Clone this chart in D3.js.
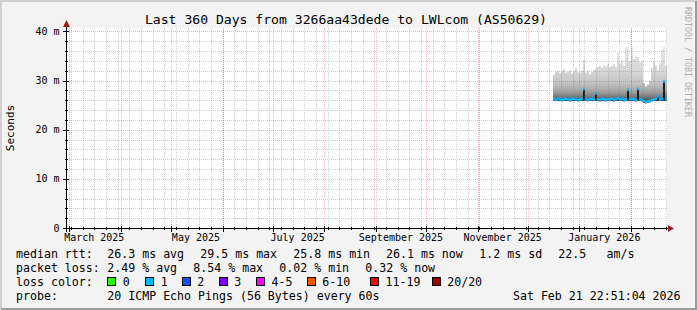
<!DOCTYPE html>
<html>
<head>
<meta charset="utf-8">
<script src="https://cdn.jsdelivr.net/npm/d3@7"></script>
<style>
  body { margin: 0; background: #f3f3f3; }
  text { font-family: "DejaVu Sans Mono", monospace; fill: #000; }
</style>
</head>
<body>
<svg id="chart" width="697" height="310"></svg>
<script>
// time window of the graph (360 days) and first column with data
const rangeStart = new Date(Date.UTC(2025, 1, 27, 15));
const rangeEnd = new Date(Date.UTC(2026, 1, 22, 15));
const dataStart = new Date(Date.UTC(2025, 11, 16, 5));
const stepHours = 28.8;

// per column values in ms
const medianRtt = [26.2, 26.1, 26.3, 26.2, 26.1, 26.2, 26.3, 26.2, 26.1, 26.2, 26.3, 26.2, 26.1, 26.2, 26.3,
    28.3,
    26.2, 26.1, 26.2, 26.3, 26.2,
    27.4,
    26.2, 26.1, 26.3, 26.2, 26.1, 26.2, 26.2, 26.3, 26.1, 26.2,
    26.4,
    26.2, 26.3, 26.1, 26.2,
    28.1,
    26.2, 26.3, 26.2, 26.1,
    28.3,
    26.2, 26.1,
    25.8, 25.7, 25.8, 25.9,
    26.1, 26.2, 26.3,
    26.8,
    26.2, 26.3,
    29.8,
    26.3];
const minRtt = [25.9, 25.9, 25.9, 25.9, 25.8, 25.9, 25.9, 25.9, 25.8, 25.9, 25.9, 25.9, 25.8, 25.9, 25.9,
    25.9,
    25.9, 25.8, 25.9, 25.9, 25.9,
    25.9,
    25.9, 25.8, 25.9, 25.9, 25.8, 25.9, 25.9, 25.9, 25.8, 25.9,
    25.9,
    25.9, 25.9, 25.8, 25.9,
    25.9,
    25.9, 25.9, 25.9, 25.8,
    25.9,
    25.9, 25.8,
    25.5, 25.4, 25.5, 25.6,
    25.8, 25.9, 25.9,
    25.9,
    25.9, 25.9,
    25.9,
    25.9];
const maxRtt = [31.2, 31.8, 32.0, 31.5, 31.9, 32.3, 31.6, 31.8, 32.1, 31.4, 31.9, 32.4, 31.7, 31.5, 32.0,
    34.2,
    31.6, 32.0, 31.3, 31.8, 32.2,
    32.5,
    32.8, 33.0, 32.6, 33.2, 32.9, 33.5, 32.7, 33.0, 33.4, 32.8,
    35.6,
    33.5, 34.2, 33.0, 36.8,
    36.9,
    34.0, 36.9, 34.4, 34.9,
    34.8,
    33.7, 34.0,
    29.5, 28.8, 29.2, 30.0,
    32.5, 33.8, 33.2,
    32.0,
    33.5, 36.4,
    36.9,
    33.0];
const lossCount = [1, 1, 1, 1, 1, 1, 1, 1, 1, 1, 1, 1, 1, 1, 1,
    1,
    1, 1, 1, 1, 1,
    1,
    1, 1, 1, 1, 1, 1, 1, 1, 1, 1,
    1,
    1, 1, 1, 1,
    1,
    1, 1, 1, 1,
    1,
    1, 1,
    1, 1, 1, 1,
    1, 1, 1,
    1,
    1, 1,
    1,
    1];

const yTickValues = [0, 10, 20, 30, 40];
const yTickLabels = ["0", "10 m", "20 m", "30 m", "40 m"];
const monthLabels = ["March 2025", "May 2025", "July 2025", "September 2025", "November 2025", "January 2026"];

const lossBuckets = ["0", "1", "2", "3", "4-5", "6-10", "11-19", "20/20"];
const lossColors = ["#26ff00", "#00b8ff", "#0059ff", "#7e00ff", "#ff00ff", "#ff5500", "#ff0000", "#a10000"];

const rttLegend = [["26.3 ms avg", 107.3], ["29.5 ms max", 200.3], ["25.8 ms min", 293.3],
    ["26.1 ms now", 386], ["1.2 ms sd", 479.3], ["22.5", 558.3], ["am/s", 606.5]];
const lossLegend = [["2.49 % avg", 107.3], ["8.54 % max", 193.3], ["0.02 % min", 279.3], ["0.32 % now", 365.3]];
const swatchX = [107.3, 145.3, 181.7, 218.7, 256, 306.7, 370, 431.7];

const W = 697, H = 310;
const plot = { left: 67, right: 667, top: 28, bottom: 228 };

const svg = d3.select("#chart");

const x = d3.scaleUtc().domain([rangeStart, rangeEnd]).range([plot.left, plot.right]);
const y = d3.scaleLinear().domain([0, 40.7]).range([plot.bottom, plot.top]);

function lossColor(n) {
    if (n <= 3) return lossColors[n];
    if (n <= 5) return lossColors[4];
    if (n <= 10) return lossColors[5];
    if (n <= 19) return lossColors[6];
    return lossColors[7];
}

// canvas and frame
svg.append("rect").attr("width", W).attr("height", H).attr("fill", "#f3f3f3");
svg.append("path").attr("d", `M1,${H} V1 H${W}`).attr("stroke", "#d0d0d0").attr("stroke-width", 2).attr("fill", "none");
svg.append("path").attr("d", `M1,${H - 1} H${W - 1} V1`).attr("stroke", "#9c9c9c").attr("stroke-width", 2).attr("fill", "none");

svg.append("rect")
    .attr("x", plot.left).attr("y", plot.top)
    .attr("width", plot.right - plot.left).attr("height", plot.bottom - plot.top)
    .attr("fill", "#fff");

// smoke gradient, dark near the median and fading upward
const grad = svg.append("defs").append("linearGradient")
    .attr("id", "smoke")
    .attr("gradientUnits", "userSpaceOnUse")
    .attr("x1", 0).attr("x2", 0)
    .attr("y1", y(26)).attr("y2", y(37));
[[0, "#4a4a4a"], [0.07, "#7a7a7a"], [0.18, "#a8a8a8"], [0.34, "#c6c6c6"], [0.55, "#d6d6d6"], [1, "#e8e8e8"]]
    .forEach(s => grad.append("stop").attr("offset", s[0]).attr("stop-color", s[1]));

const cols = medianRtt.map((m, i) => ({
    t0: new Date(+dataStart + i * stepHours * 3600e3),
    t1: new Date(+dataStart + (i + 1) * stepHours * 3600e3),
    median: m,
    min: minRtt[i],
    max: maxRtt[i],
    loss: lossCount[i]
}));

const data = svg.append("g");

data.selectAll(".smoke")
    .data(cols)
    .enter()
    .append("rect")
    .attr("class", "smoke")
    .attr("x", d => x(d.t0))
    .attr("width", d => x(d.t1) - x(d.t0))
    .attr("y", d => y(d.max))
    .attr("height", d => y(d.min) - y(d.max))
    .attr("fill", "url(#smoke)");

data.selectAll(".dark")
    .data(cols)
    .enter()
    .append("rect")
    .attr("class", "dark")
    .attr("x", d => x(d.t0))
    .attr("width", d => x(d.t1) - x(d.t0))
    .attr("y", d => y(d.median))
    .attr("height", d => y(d.min) - y(d.median))
    .attr("fill", "#1c1c1c");

data.selectAll(".median")
    .data(cols)
    .enter()
    .append("rect")
    .attr("class", "median")
    .attr("x", d => x(d.t0))
    .attr("width", d => x(d.t1) - x(d.t0))
    .attr("y", d => y(d.median) - 1.3)
    .attr("height", 2.6)
    .attr("fill", d => lossColor(d.loss));

// grid on top of the data, like rrdtool
const grid = svg.append("g").attr("fill", "none").attr("shape-rendering", "crispEdges");
const minorStroke = "rgba(130,130,130,0.38)";
const majorStroke = "rgba(235,60,60,0.38)";

grid.selectAll(".yminor")
    .data(d3.range(0, 41, 2).filter(v => v % 10 != 0))
    .enter().append("line")
    .attr("x1", plot.left).attr("x2", plot.right)
    .attr("y1", d => Math.round(y(d)) + 0.5).attr("y2", d => Math.round(y(d)) + 0.5)
    .attr("stroke", minorStroke).attr("stroke-dasharray", "1,1");

grid.selectAll(".xminor")
    .data(d3.utcSunday.range(rangeStart, rangeEnd))
    .enter().append("line")
    .attr("x1", d => Math.round(x(d)) + 0.5).attr("x2", d => Math.round(x(d)) + 0.5)
    .attr("y1", plot.top).attr("y2", plot.bottom)
    .attr("stroke", minorStroke).attr("stroke-dasharray", "1,1");

grid.selectAll(".ymajor")
    .data(yTickValues.slice(1))
    .enter().append("line")
    .attr("x1", plot.left).attr("x2", plot.right)
    .attr("y1", d => Math.round(y(d)) + 0.5).attr("y2", d => Math.round(y(d)) + 0.5)
    .attr("stroke", majorStroke).attr("stroke-dasharray", "1,1");

const months = d3.utcMonth.range(rangeStart, rangeEnd);
grid.selectAll(".xmajor")
    .data(months)
    .enter().append("line")
    .attr("x1", d => Math.round(x(d)) + 0.5).attr("x2", d => Math.round(x(d)) + 0.5)
    .attr("y1", plot.top).attr("y2", plot.bottom)
    .attr("stroke", majorStroke).attr("stroke-dasharray", "1,1");

// axes
const axes = svg.append("g").attr("shape-rendering", "crispEdges").attr("stroke", "#000");
axes.append("line").attr("x1", plot.left - 4).attr("x2", plot.right + 2)
    .attr("y1", plot.bottom + 0.5).attr("y2", plot.bottom + 0.5);
axes.append("line").attr("x1", plot.left - 0.5).attr("x2", plot.left - 0.5)
    .attr("y1", plot.bottom + 4).attr("y2", plot.top - 2);

axes.selectAll(".ytick")
    .data(yTickValues)
    .enter().append("line")
    .attr("x1", plot.left - 4).attr("x2", plot.left + 2)
    .attr("y1", d => Math.round(y(d)) + 0.5).attr("y2", d => Math.round(y(d)) + 0.5);
axes.selectAll(".ytickminor")
    .data(d3.range(0, 41, 2))
    .enter().append("line")
    .attr("x1", plot.left - 2).attr("x2", plot.left + 1)
    .attr("y1", d => Math.round(y(d)) + 0.5).attr("y2", d => Math.round(y(d)) + 0.5);
axes.selectAll(".xtick")
    .data(months)
    .enter().append("line")
    .attr("x1", d => Math.round(x(d)) + 0.5).attr("x2", d => Math.round(x(d)) + 0.5)
    .attr("y1", plot.bottom - 2).attr("y2", plot.bottom + 4);
axes.selectAll(".xtickminor")
    .data(d3.utcSunday.range(rangeStart, rangeEnd))
    .enter().append("line")
    .attr("x1", d => Math.round(x(d)) + 0.5).attr("x2", d => Math.round(x(d)) + 0.5)
    .attr("y1", plot.bottom - 1).attr("y2", plot.bottom + 2);

// arrow heads
svg.append("path")
    .attr("d", `M${plot.right + 1},${plot.bottom - 3} L${plot.right + 7},${plot.bottom + 0.5} L${plot.right + 1},${plot.bottom + 4} Z`)
    .attr("fill", "#9b1c1c");
svg.append("path")
    .attr("d", `M${plot.left - 4},${plot.top - 1} L${plot.left - 0.5},${plot.top - 8} L${plot.left + 3},${plot.top - 1} Z`)
    .attr("fill", "#9b1c1c");

// axis labels
svg.selectAll(".ylabel")
    .data(yTickValues)
    .enter().append("text")
    .attr("x", 59.5)
    .attr("y", d => y(d) + 3.5)
    .attr("text-anchor", "end")
    .style("font-size", "10px")
    .text((d, i) => yTickLabels[i]);

const labelMonths = d3.utcMonth.every(2).range(rangeStart, rangeEnd);
svg.selectAll(".xlabel")
    .data(labelMonths)
    .enter().append("text")
    .attr("x", d => x(d3.utcDay.offset(d, 15)))
    .attr("y", 241)
    .attr("text-anchor", "middle")
    .style("font-size", "10px")
    .text((d, i) => monthLabels[i]);

svg.append("text")
    .attr("transform", "translate(14,128) rotate(-90)")
    .attr("text-anchor", "middle")
    .style("font-size", "11px")
    .text("Seconds");

svg.append("text")
    .attr("x", 346).attr("y", 24)
    .attr("text-anchor", "middle")
    .style("font-size", "13.1px")
    .text("Last 360 Days from 3266aa43dede to LWLcom (AS50629)");

svg.append("text")
    .attr("transform", "translate(685,7) rotate(90)")
    .style("font-size", "8.3px")
    .style("fill", "#acacac")
    .text("RRDTOOL / TOBI OETIKER");

// legend rows
const legend = svg.append("g").style("font-size", "11.6px");

legend.append("text").attr("x", 16).attr("y", 258).text("median rtt:");
legend.selectAll(".rtt")
    .data(rttLegend)
    .enter().append("text")
    .attr("x", d => d[1]).attr("y", 258)
    .text(d => d[0]);

legend.append("text").attr("x", 16).attr("y", 272).text("packet loss:");
legend.selectAll(".loss")
    .data(lossLegend)
    .enter().append("text")
    .attr("x", d => d[1]).attr("y", 272)
    .text(d => d[0]);

legend.append("text").attr("x", 16).attr("y", 286).text("loss color:");
legend.selectAll(".swatch")
    .data(lossBuckets)
    .enter().append("rect")
    .attr("x", (d, i) => Math.round(swatchX[i]) + 0.5)
    .attr("y", 277.5)
    .attr("width", 8).attr("height", 8)
    .attr("fill", (d, i) => lossColors[i])
    .attr("stroke", "#000");
legend.selectAll(".swatchlabel")
    .data(lossBuckets)
    .enter().append("text")
    .attr("x", (d, i) => swatchX[i] + 15.5)
    .attr("y", 286)
    .text(d => d);

legend.append("text").attr("x", 16).attr("y", 300).text("probe:");
legend.append("text").attr("x", 107.3).attr("y", 300).text("20 ICMP Echo Pings (56 Bytes) every 60s");
legend.append("text").attr("x", 680.5).attr("y", 300).attr("text-anchor", "end").text("Sat Feb 21 22:51:04 2026");
</script>
</body>
</html>
